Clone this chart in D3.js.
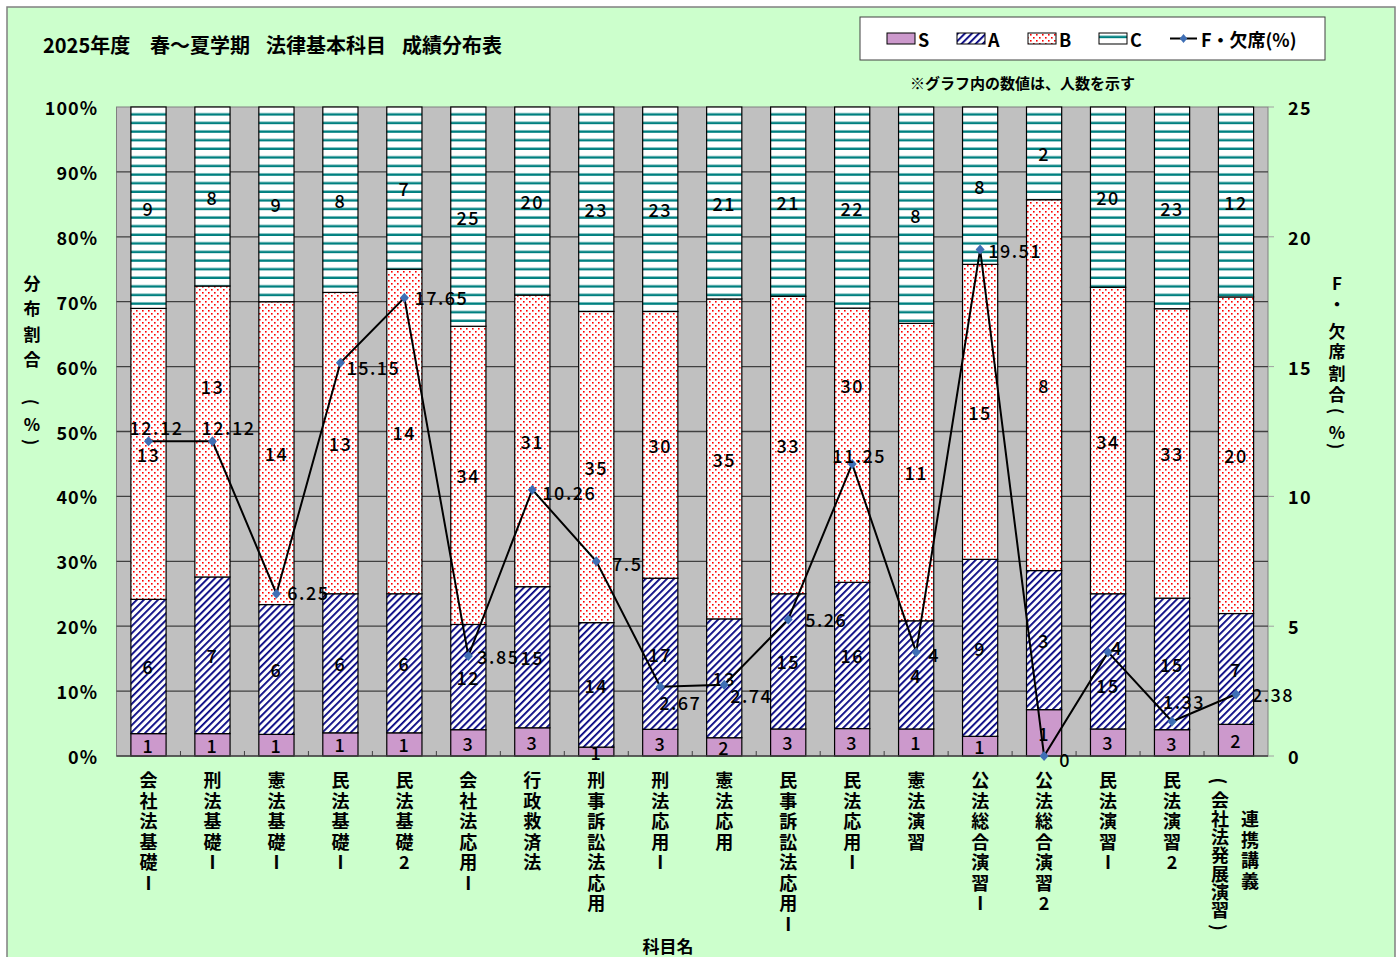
<!DOCTYPE html>
<html><head><meta charset="utf-8">
<script src="https://cdn.jsdelivr.net/npm/d3@7"></script>
<style>body{margin:0;background:#fff}svg{display:block}</style>
</head><body>
<svg id="c" width="1400" height="957"></svg>
<script>
const categories = ["会社法基礎Ⅰ","刑法基礎Ⅰ","憲法基礎Ⅰ","民法基礎Ⅰ","民法基礎2","会社法応用Ⅰ","行政救済法","刑事訴訟法応用","刑法応用Ⅰ","憲法応用","民事訴訟法応用Ⅰ","民法応用Ⅰ","憲法演習","公法総合演習Ⅰ","公法総合演習2","民法演習Ⅰ","民法演習2","連携講義（会社法発展演習）"];
const sCounts = [1,1,1,1,1,3,3,1,3,2,3,3,1,1,1,3,3,2];
const aCounts = [6,7,6,6,6,12,15,14,17,13,15,16,4,9,3,15,15,7];
const bCounts = [13,13,14,13,14,34,31,35,30,35,33,30,11,15,8,34,33,20];
const cCounts = [9,8,9,8,7,25,20,23,23,21,21,22,8,8,2,20,23,12];
const fRates = [12.12,12.12,6.25,15.15,17.65,3.85,10.26,7.5,2.67,2.74,5.26,11.25,4,19.51,0,4,1.33,2.38];
const leftTicks = [0,0.1,0.2,0.3,0.4,0.5,0.6,0.7,0.8,0.9,1];
const rightTicks = [0,5,10,15,20,25];
const seriesKeys = ["S","A","B","C"];
const titleParts = ["2025年度","春～夏学期","法律基本科目","成績分布表"];
// label nudges for the F line labels (manual placement as in the reference)
const fLabelDx = [8,16,32,33,37,30,37,31,20,27,38,7,18,35,21,9,12,37];
const fLabelDy = [-14,-14,-2,4,-1,0,2,2,15,10,0,-9,2,0,3,-5,-20,0];
// manually moved segment labels in the reference (category index, series, vertical nudge)
const segLabelNudge = {"1-B":-46, "11-B":-60, "15-A":24};

const FONT = "'Noto Sans CJK JP','Noto Sans',sans-serif";
const svg = d3.select("#c");
const W = 1400, H = 957;
const plot = {l:116.5, r:1268, t:107, b:756};

// outer frame
svg.append("rect").attr("x",0).attr("y",0).attr("width",W).attr("height",H).attr("fill","#fff");
svg.append("rect").attr("x",7).attr("y",7).attr("width",1388).attr("height",965)
  .attr("fill","#CCFFCC").attr("stroke","#808080").attr("stroke-width",1.5);

// patterns
const defs = svg.append("defs");
const pA = defs.append("pattern").attr("id","patA").attr("patternUnits","userSpaceOnUse")
  .attr("width",5).attr("height",5).attr("patternTransform","rotate(45)");
pA.append("rect").attr("width",5).attr("height",5).attr("fill","#fff");
pA.append("rect").attr("x",0).attr("y",0).attr("width",1.8).attr("height",5).attr("fill","#000080");
const pB = defs.append("pattern").attr("id","patB").attr("patternUnits","userSpaceOnUse")
  .attr("width",6).attr("height",6);
pB.append("rect").attr("width",6).attr("height",6).attr("fill","#fff");
pB.append("rect").attr("x",1).attr("y",1).attr("width",1.6).attr("height",1.6).attr("fill","#FF0000");
pB.append("rect").attr("x",4).attr("y",4).attr("width",1.6).attr("height",1.6).attr("fill","#FF0000");
const pC = defs.append("pattern").attr("id","patC").attr("patternUnits","userSpaceOnUse")
  .attr("width",8).attr("height",8.6).attr("y",plot.t);
pC.append("rect").attr("width",8).attr("height",8.6).attr("fill","#fff");
pC.append("rect").attr("x",0).attr("y",6.2).attr("width",8).attr("height",2.4).attr("fill","#008080");
const fills = {S:"#CC99CC", A:"url(#patA)", B:"url(#patB)", C:"url(#patC)"};

// scales
const x = d3.scaleBand().domain(categories).range([plot.l, plot.r]).paddingInner(0.45).paddingOuter(0.225);
const yL = d3.scaleLinear().domain([0,1]).range([plot.b, plot.t]);
const yR = d3.scaleLinear().domain([0,25]).range([plot.b, plot.t]);

// plot area
svg.append("rect").attr("x",plot.l).attr("y",plot.t).attr("width",plot.r-plot.l).attr("height",plot.b-plot.t)
  .attr("fill","#C0C0C0").attr("stroke","#808080").attr("stroke-width",1);
svg.append("g").selectAll("line").data(leftTicks.filter(d=>d>0 && d<1)).join("line")
  .attr("x1",plot.l).attr("x2",plot.r).attr("y1",d=>yL(d)).attr("y2",d=>yL(d))
  .attr("stroke","#404040").attr("stroke-width",1.3);

// stacked data
const table = categories.map((c,i)=>({cat:c, idx:i, S:sCounts[i], A:aCounts[i], B:bCounts[i], C:cCounts[i]}));
const stacked = d3.stack().keys(seriesKeys).offset(d3.stackOffsetExpand)(table);

const gBars = svg.append("g");
stacked.forEach(layer=>{
  gBars.append("g").selectAll("rect").data(layer).join("rect")
    .attr("x",d=>x(d.data.cat)).attr("width",x.bandwidth())
    .attr("y",d=>yL(d[1])).attr("height",d=>yL(d[0])-yL(d[1]))
    .attr("fill",fills[layer.key]).attr("stroke","#000").attr("stroke-width",1.2);
});

// x axis ticks at category boundaries
const bounds = categories.map((c,i)=>x(c) - x.step()*x.paddingInner()/2).slice(1);
svg.append("g").selectAll("line").data(bounds).join("line")
  .attr("x1",d=>d).attr("x2",d=>d).attr("y1",plot.b).attr("y2",plot.b-5)
  .attr("stroke","#404040").attr("stroke-width",1);
svg.append("line").attr("x1",plot.l).attr("x2",plot.r).attr("y1",plot.b).attr("y2",plot.b)
  .attr("stroke","#404040").attr("stroke-width",1.3);

// segment labels
stacked.forEach(layer=>{
  svg.append("g").selectAll("text").data(layer).join("text")
    .attr("x",d=>x(d.data.cat)+x.bandwidth()/2)
    .attr("y",d=>yL((d[0]+d[1])/2) + (segLabelNudge[d.data.idx+"-"+layer.key]||0))
    .attr("text-anchor","middle").attr("dominant-baseline","central")
    .attr("font-family",FONT).attr("font-size",18).attr("font-weight",500)
    .attr("letter-spacing",1.5).attr("fill","#000")
    .text(d=>d.data[layer.key]);
});

// left axis labels
svg.append("g").selectAll("text").data(leftTicks).join("text")
  .attr("x",98).attr("y",d=>yL(d)).attr("text-anchor","end").attr("dominant-baseline","central")
  .attr("font-family",FONT).attr("font-size",18).attr("font-weight",700).attr("letter-spacing",1)
  .text(d=>Math.round(d*100)+"%");
// right axis
svg.append("g").selectAll("line").data(rightTicks).join("line")
  .attr("x1",plot.r).attr("x2",plot.r+6).attr("y1",d=>yR(d)).attr("y2",d=>yR(d))
  .attr("stroke","#A0A0A0").attr("stroke-width",1);
svg.append("g").selectAll("text").data(rightTicks).join("text")
  .attr("x",1288).attr("y",d=>yR(d)).attr("text-anchor","start").attr("dominant-baseline","central")
  .attr("font-family",FONT).attr("font-size",18).attr("font-weight",700).attr("letter-spacing",1.5)
  .text(d=>d);

// F line
const cx = c => x(c)+x.bandwidth()/2;
const line = d3.line().x((d,i)=>cx(categories[i])).y(d=>yR(d));
svg.append("path").datum(fRates).attr("d",line).attr("fill","none").attr("stroke","#000").attr("stroke-width",2);
svg.append("g").selectAll("path").data(fRates).join("path")
  .attr("d",d3.symbol().type(d3.symbolDiamond2).size(64))
  .attr("transform",(d,i)=>`translate(${cx(categories[i])},${yR(d)}) scale(0.9,1)`)
  .attr("fill","#3F6FB5");
svg.append("g").selectAll("text").data(fRates).join("text")
  .attr("x",(d,i)=>cx(categories[i])+fLabelDx[i]).attr("y",(d,i)=>yR(d)+fLabelDy[i])
  .attr("text-anchor","middle").attr("dominant-baseline","central")
  .attr("font-family",FONT).attr("font-size",18).attr("font-weight",500).attr("letter-spacing",1.5)
  .text(d=>d);

// vertical text helper
function vText(str, xPos, y0, step, size){
  const g = svg.append("g");
  Array.from(str).forEach((ch,i)=>{
    const yy = y0 + i*step;
    const t = g.append("text").attr("x",xPos).attr("y",yy)
      .attr("text-anchor","middle").attr("dominant-baseline","central")
      .attr("font-family",FONT).attr("font-size",size).attr("font-weight",700);
    if (ch==="（"||ch==="("){ t.text("(").attr("transform",`rotate(90,${xPos},${yy})`); }
    else if (ch==="）"||ch===")"){ t.text(")").attr("transform",`rotate(90,${xPos},${yy})`); }
    else t.text(ch);
  });
}
categories.forEach(c=>{
  const xc = cx(c);
  const m = c.match(/^(.*?)（(.*)）$/);
  if (m){
    vText(m[1], xc+14, 818, 20.5, 18);
    vText("（"+m[2]+"）", xc-16, 781, 18.3, 18);
  } else {
    vText(c, xc, 779, 20.5, 18);
  }
});

// axis titles
function vChars(chars, ys, xPos, size){
  chars.forEach((ch,i)=>{
    const t = svg.append("text").attr("x",xPos).attr("y",ys[i])
      .attr("text-anchor","middle").attr("dominant-baseline","central")
      .attr("font-family",FONT).attr("font-size",size).attr("font-weight",700);
    if (ch==="("||ch===")") t.attr("transform",`rotate(90,${xPos},${ys[i]})`);
    t.text(ch);
  });
}
vChars(["分","布","割","合","(","%",")"],[282,307,333,358,402,423,442],32,17);
vChars(["F","・","欠","席","割","合","(","%",")"],[282,303,330,350,372,393,411,431,446],1337,17);
svg.append("text").attr("x",668).attr("y",945).attr("text-anchor","middle").attr("dominant-baseline","central")
  .attr("font-family",FONT).attr("font-size",17).attr("font-weight",700).text("科目名");

// title (single text, parts separated as in the reference)
const titleX = [43,150,266,402];
const tt = svg.append("text").attr("y",53).attr("font-family",FONT).attr("font-size",20).attr("font-weight",700);
titleParts.forEach((p,i)=>tt.append("tspan").attr("x",titleX[i]).text(p));

// legend
const lg = svg.append("g");
lg.append("rect").attr("x",860).attr("y",17).attr("width",465).attr("height",43)
  .attr("fill","#fff").attr("stroke","#404040").attr("stroke-width",1);
const legItems = [{k:"S",x:887},{k:"A",x:957},{k:"B",x:1028},{k:"C",x:1099}];
legItems.forEach(it=>{
  lg.append("rect").attr("x",it.x).attr("y",33).attr("width",28).attr("height",11)
    .attr("fill",fills[it.k]).attr("stroke","#000").attr("stroke-width",1);
  lg.append("text").attr("x",it.x+31).attr("y",39).attr("dominant-baseline","central")
    .attr("font-family",FONT).attr("font-size",18).attr("font-weight",700).text(it.k);
});
lg.append("line").attr("x1",1170).attr("x2",1197).attr("y1",38.5).attr("y2",38.5).attr("stroke","#000").attr("stroke-width",2);
lg.append("path").attr("d",d3.symbol().type(d3.symbolDiamond2).size(50)).attr("transform","translate(1183.5,38.5) scale(0.85,1)").attr("fill","#3F6FB5");
lg.append("text").attr("x",1201).attr("y",39).attr("dominant-baseline","central")
  .attr("font-family",FONT).attr("font-size",18).attr("font-weight",700).text("F・欠席(%)");
svg.append("text").attr("x",910).attr("y",82).attr("dominant-baseline","central")
  .attr("font-family",FONT).attr("font-size",15).attr("font-weight",700).text("※グラフ内の数値は、人数を示す");
</script>
</body></html>
